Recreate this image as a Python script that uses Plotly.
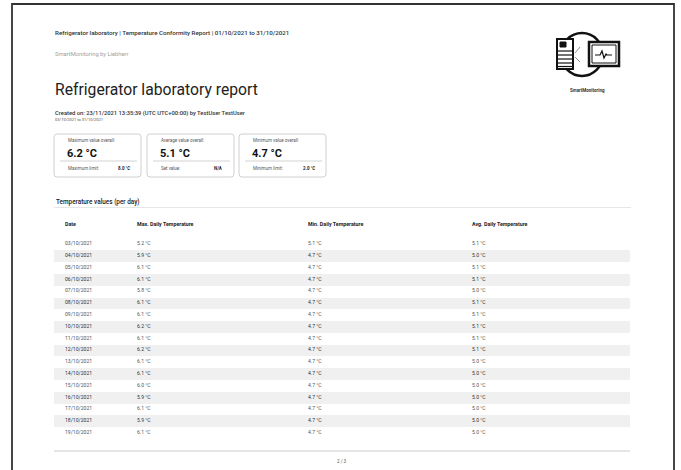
import plotly.graph_objects as go

# ---------------- data ----------------
dates = ["03/10/2021", "04/10/2021", "05/10/2021", "06/10/2021", "07/10/2021",
         "08/10/2021", "09/10/2021", "10/10/2021", "11/10/2021", "12/10/2021",
         "13/10/2021", "14/10/2021", "15/10/2021", "16/10/2021", "17/10/2021",
         "18/10/2021", "19/10/2021"]
max_temp = [5.2, 5.9, 6.1, 6.1, 5.8, 6.1, 6.1, 6.2, 6.1, 6.2, 6.1, 6.1, 6.0, 5.9, 6.1, 5.9, 6.1]
min_temp = [5.1, 4.7, 4.7, 4.7, 4.7, 4.7, 4.7, 4.7, 4.7, 4.7, 4.7, 4.7, 4.7, 4.7, 4.7, 4.7, 4.7]
avg_temp = [5.1, 5.0, 5.1, 5.1, 5.0, 5.1, 5.1, 5.1, 5.1, 5.1, 5.0, 5.0, 5.0, 5.0, 5.0, 5.0, 5.0]
col_headers = ["Date", "Max. Daily Temperature", "Min. Daily Temperature", "Avg. Daily Temperature"]

card_labels = ["Maximum value overall:", "Average value overall:", "Minimum value overall:"]
card_values = ["6.2 °C", "5.1 °C", "4.7 °C"]
card_sub_labels = ["Maximum limit:", "Set value:", "Minimum limit:"]
card_sub_values = ["8.0 °C", "N/A", "2.0 °C"]

header_line = "Refrigerator laboratory | Temperature Conformity Report | 01/10/2021 to 31/10/2021"
brand_line = "SmartMonitoring by Liebherr"
title = "Refrigerator laboratory report"
created = "Created on: 23/11/2021 13:35:39 (UTC UTC+00:00) by TestUser TestUser"
period = "03/10/2021 to 31/10/2021"
section = "Temperature values (per day)"
page_no = "2 / 3"

# ---------------- layout constants ----------------
W, H = 681, 470
FONT = "Roboto"
col_x = [65, 137, 308, 472]
row_top, row_step = 244.0, 11.79
y_lo, y_hi = -2.5, 16.5  # row-index range of table axis
dom_top = 1 - (row_top + y_lo * row_step) / H
dom_bot = 1 - (row_top + y_hi * row_step) / H

fig = go.Figure()

# shaded alternate rows
n = len(dates)
shaded = [i for i in range(n) if i % 2 == 1]
fig.add_trace(go.Bar(
    y=shaded, x=[630 - 54] * len(shaded), base=54, orientation="h", width=1.0,
    marker=dict(color="#f0f0f0", line=dict(width=0)),
    xaxis="x", yaxis="y2", hoverinfo="skip", showlegend=False))

rows = list(range(n))
def fmt(v):
    return [f"{x:.1f} °C" for x in v]

columns = [dates, fmt(max_temp), fmt(min_temp), fmt(avg_temp)]
for ci, col in enumerate(columns):
    colors = ["#333333" if i % 2 == 1 else "#555555" for i in rows]
    fig.add_trace(go.Scatter(
        x=[col_x[ci]] * n, y=rows, mode="text", text=col,
        textposition="middle right",
        textfont=dict(family=FONT, size=5.1, color=colors),
        xaxis="x", yaxis="y2", hoverinfo="skip", showlegend=False))

# header row
fig.add_trace(go.Scatter(
    x=col_x, y=[-1.61] * 4, mode="text", text=col_headers,
    textposition="middle right",
    textfont=dict(family=FONT, size=5.3, color="#222222", weight=700),
    xaxis="x", yaxis="y2", hoverinfo="skip", showlegend=False))

shapes = []
ann = []

def text(x, y, s, size, color="#222222", weight=400, anchor="left"):
    ann.append(dict(x=x, y=y, xref="x", yref="y", text=s, showarrow=False,
                    xanchor=anchor, yanchor="middle",
                    font=dict(family=FONT, size=size, color=color, weight=weight)))

# page frame
shapes.append(dict(type="path", path="M 12,480 L 12,4 L 674,4 L 674,480",
                   xref="x", yref="y", line=dict(color="#333333", width=1.8)))

text(53, 33, header_line, 6.2, "#333333", 500)
text(53, 54, brand_line, 5.8, "#a0a0a0")
text(53, 89, title, 15.7, "#222222")
text(53, 113, created, 5.8, "#333333", 500)
text(53, 119.5, period, 4, "#555555")

# cards
card_x = [54, 147, 239]
card_w = 87
for i in range(3):
    x0 = card_x[i]
    x1 = x0 + card_w
    r = 3
    shapes.append(dict(type="path", xref="x", yref="y",
        path=f"M {x0+r},134 L {x1-r},134 Q {x1},134 {x1},{134+r} L {x1},{177-r} Q {x1},177 {x1-r},177 "
             f"L {x0+r},177 Q {x0},177 {x0},{177-r} L {x0},{134+r} Q {x0},134 {x0+r},134 Z",
        line=dict(color="#d0d0d0", width=1), fillcolor="white"))
    shapes.append(dict(type="line", xref="x", yref="y", x0=x0 + 6, x1=x1 - 4, y0=161, y1=161,
                       line=dict(color="#c8c8c8", width=0.8)))
    text(x0 + 12, 140.5, card_labels[i], 4.5, "#555555")
    text(x0 + 11, 153, card_values[i], 11, "#111111", 700)
    text(x0 + 12, 168, card_sub_labels[i], 4.5, "#555555")
    text(x1 - 9, 168, card_sub_values[i], 4.5, "#222222", 700, anchor="right")

text(54, 202, section, 6.4, "#222222", 500)
shapes.append(dict(type="line", xref="x", yref="y", x0=54, x1=631, y0=207.5, y1=207.5,
                   line=dict(color="#e6e6e6", width=1)))

# footer
shapes.append(dict(type="line", xref="x", yref="y", x0=54, x1=630, y0=451, y1=451,
                   line=dict(color="#cccccc", width=1)))
text(342, 461, page_no, 4.5, "#555555", anchor="center")

# logo
shapes.append(dict(type="circle", xref="x", yref="y", x0=561, x1=603, y0=33, y1=76,
                   line=dict(color="#111111", width=2.5)))
shapes.append(dict(type="rect", xref="x", yref="y", x0=557, x1=573, y0=39, y1=69,
                   line=dict(color="#111111", width=2), fillcolor="white"))
shapes.append(dict(type="rect", xref="x", yref="y", x0=560, x1=566, y0=42, y1=47,
                   line=dict(color="#111111", width=1), fillcolor="#111111"))
for yy in [51, 55, 59, 63, 66.5]:
    shapes.append(dict(type="line", xref="x", yref="y", x0=558, x1=572, y0=yy, y1=yy,
                       line=dict(color="#111111", width=1.2)))
shapes.append(dict(type="rect", xref="x", yref="y", x0=589, x1=619, y0=42, y1=66,
                   line=dict(color="#111111", width=2.5), fillcolor="white"))
shapes.append(dict(type="rect", xref="x", yref="y", x0=592, x1=616, y0=45, y1=63,
                   line=dict(color="#111111", width=1), fillcolor="white"))
shapes.append(dict(type="path", xref="x", yref="y",
                   path="M 595,55 L 600,55 L 602,51 L 604,58 L 606,54 L 607,55 L 612,55",
                   line=dict(color="#111111", width=1.2)))
shapes.append(dict(type="path", xref="x", yref="y",
                   path="M 580,47 L 575,53 M 575,57 L 580,62",
                   line=dict(color="#777777", width=0.8)))
text(587, 90, "SmartMonitoring", 4.5, "#333333", 700, anchor="center")

fig.update_layout(
    width=W, height=H, margin=dict(l=0, r=0, t=0, b=0),
    paper_bgcolor="white", plot_bgcolor="rgba(0,0,0,0)",
    xaxis=dict(range=[0, W], domain=[0, 1], visible=False, fixedrange=True),
    yaxis=dict(range=[H, 0], domain=[0, 1], visible=False, fixedrange=True),
    yaxis2=dict(range=[y_hi, y_lo], domain=[dom_bot, dom_top], anchor="x",
                visible=False, fixedrange=True),
    shapes=shapes, annotations=ann, showlegend=False, bargap=0,
)
fig.write_html("out.html", config={"displayModeBar": False},
               post_script="document.body.style.margin='0px';document.body.style.overflow='hidden';")
